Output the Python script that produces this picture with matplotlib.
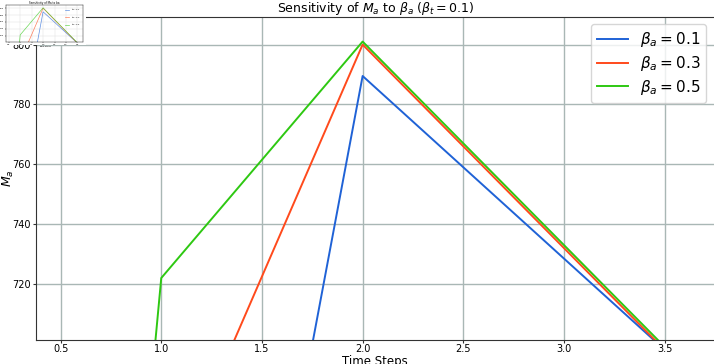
import matplotlib.pyplot as plt
from matplotlib.patches import Rectangle

steps = [0, 1, 2, 3, 4]
m_a_01 = [0, 431, 789.5, 728.5, 667.5]
m_a_03 = [0, 645, 800, 732, 664]
m_a_05 = [0, 722, 801, 733, 665]
labels = [r'$\beta_a = 0.1$', r'$\beta_a = 0.3$', r'$\beta_a = 0.5$']
colors = ['#1f62d6', '#ff4a1c', '#2ec812']
series = [m_a_01, m_a_03, m_a_05]

fig = plt.figure(figsize=(7.14, 3.64), dpi=100)
ax = fig.add_axes([0.051, 0.066, 0.949, 0.888])
for s, lab, c in zip(series, labels, colors):
    ax.plot(steps, s, color=c, lw=1.4, label=lab)
ax.set_xlim(0.38, 3.745)
ax.set_ylim(701.3, 809.3)
ax.set_xticks([0.5, 1.0, 1.5, 2.0, 2.5, 3.0, 3.5])
ax.set_yticks([720, 740, 760, 780, 800])
ax.grid(True, color='#a9b7b5', lw=1.0)
ax.set_axisbelow(True)
ax.tick_params(labelsize=7, length=2.5, pad=1.5, color='#333333')
ax.tick_params(axis='x', length=2, pad=1)
for sp in ax.spines.values():
    sp.set_color('#333333')
ax.spines['right'].set_visible(False)
ax.set_title(r'Sensitivity of $M_a$ to $\beta_a$ ($\beta_t = 0.1$)', fontsize=9, pad=1)
ax.set_xlabel('Time Steps', fontsize=8.5)
ax.xaxis.set_label_coords(0.5, -0.046)
ax.set_ylabel(r'$M_a$', fontsize=9)
ax.yaxis.set_label_coords(-0.030, 0.5)
ax.legend(loc='upper right', fontsize=11, borderaxespad=0.5, handlelength=2.0,
          labelspacing=0.3)

# small thumbnail of the whole figure in the corner
fig.patches.append(Rectangle((0, 1 - 45 / 364), 86 / 714, 45 / 364,
                             transform=fig.transFigure, facecolor='white',
                             edgecolor='none', zorder=5))
ins = fig.add_axes([6 / 714, 1 - 42 / 364, 77 / 714, 37 / 364], zorder=6)
for s, lab, c in zip(series, labels, colors):
    ins.plot(steps, s, color=c, lw=0.5, alpha=0.7, label=lab)
ins.set_xlim(0.38, 3.745)
ins.set_ylim(701.3, 809.3)
ins.grid(True, color='#dddddd', lw=0.3)
ins.tick_params(labelsize=1.5, length=1, width=0.3, pad=0.5)
for sp in ins.spines.values():
    sp.set_linewidth(0.3)
ins.set_title('Sensitivity of Ma to ba', fontsize=2, pad=0.5)
ins.set_xlabel('Time Steps', fontsize=1.5, labelpad=0.3)
ins.legend(loc='upper right', fontsize=1.5, frameon=False)

fig.savefig('out.png', dpi=100)
